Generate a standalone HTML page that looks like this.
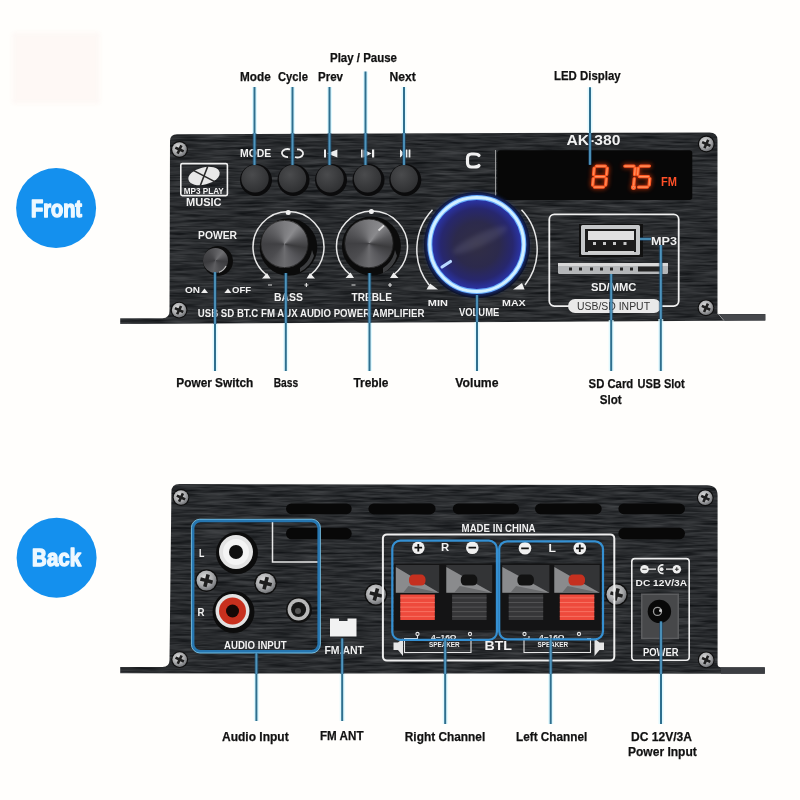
<!DOCTYPE html>
<html><head><meta charset="utf-8"><style>
html,body{margin:0;padding:0;background:#fffefc;width:800px;height:800px;overflow:hidden}
svg{display:block;will-change:transform}
text{font-family:"Liberation Sans",sans-serif}
.lbl{font-size:13px;font-weight:bold;fill:#111;stroke:#111;stroke-width:0.25px}
.pw{fill:#f2f2f2;font-weight:bold}
</style></head><body>
<svg width="800" height="800" viewBox="0 0 800 800">
<defs>
  <pattern id="brush" width="800" height="12" patternUnits="userSpaceOnUse">
    <rect width="800" height="12" fill="#27292c"/>
    <rect y="1" width="800" height="1" fill="#34373a"/>
    <rect y="4" width="800" height="1" fill="#1d1f21"/>
    <rect y="6" width="800" height="1" fill="#393c40"/>
    <rect y="9" width="800" height="1" fill="#1f2123"/>
    <rect y="10" width="800" height="1" fill="#303336"/>
  </pattern>
  <radialGradient id="btn" cx="0.4" cy="0.35" r="0.7">
    <stop offset="0" stop-color="#4a4b4d"/><stop offset="1" stop-color="#2e2f31"/>
  </radialGradient>
  <radialGradient id="knob" cx="0.45" cy="0.4" r="0.6">
    <stop offset="0" stop-color="#6a6b6d"/><stop offset="0.6" stop-color="#3a3b3d"/><stop offset="1" stop-color="#1a1a1b"/>
  </radialGradient>
  <radialGradient id="vol" cx="0.5" cy="0.5" r="0.5">
    <stop offset="0" stop-color="#322f44"/><stop offset="0.5" stop-color="#2c2a4c"/><stop offset="0.8" stop-color="#27276e"/><stop offset="1" stop-color="#2a34a8"/>
  </radialGradient>
  <filter id="brushF" x="0" y="0" width="1" height="1" color-interpolation-filters="sRGB">
    <feTurbulence type="fractalNoise" baseFrequency="0.03 0.4" numOctaves="3" seed="7" result="n"/>
    <feColorMatrix in="n" type="matrix" values="0.27 0 0 0 0.026  0.27 0 0 0 0.035  0.27 0 0 0 0.046  0 0 0 0 1" result="c"/>
    <feComposite in="c" in2="SourceGraphic" operator="in"/>
  </filter>
  <filter id="glow" x="-30%" y="-30%" width="160%" height="160%"><feGaussianBlur stdDeviation="2"/></filter>
  <filter id="soft" x="-5%" y="-5%" width="110%" height="110%"><feGaussianBlur stdDeviation="0.5"/></filter>
  <radialGradient id="scrG" cx="0.4" cy="0.35" r="0.75">
    <stop offset="0" stop-color="#dcdcdc"/><stop offset="0.55" stop-color="#a8a9ab"/><stop offset="1" stop-color="#5e6064"/>
  </radialGradient>
  <g id="screw">
    <circle r="8.4" fill="#0e0e0e"/>
    <circle r="7.3" fill="url(#scrG)"/>
    <path d="M-4.6,-1.3 L-1.3,-1.3 L-1.3,-4.6 L1.3,-4.6 L1.3,-1.3 L4.6,-1.3 L4.6,1.3 L1.3,1.3 L1.3,4.6 L-1.3,4.6 L-1.3,1.3 L-4.6,1.3Z" fill="#1e1e1e" transform="rotate(25)"/>
  </g>
  <g id="screwL">
    <circle r="11.3" fill="#0e0e0e"/>
    <circle r="10" fill="url(#scrG)"/>
    <path d="M-6.3,-1.8 L-1.8,-1.8 L-1.8,-6.3 L1.8,-6.3 L1.8,-1.8 L6.3,-1.8 L6.3,1.8 L1.8,1.8 L1.8,6.3 L-1.8,6.3 L-1.8,1.8 L-6.3,1.8Z" fill="#1e1e1e" transform="rotate(15)"/>
  </g>
</defs>

<!-- faint pink rect -->
<rect x="12" y="32" width="88" height="72" fill="#fcf2ee" opacity="0.45" filter="url(#glow)"/>

<!-- ============ FRONT PANEL ============ -->
<path d="M170,141 Q170,134.2 177,134.2 L709.5,132.4 Q717.5,132.4 717.5,140 L717.5,314.1 L765.3,314.1 L765.3,320.5 L120.2,324.1 L120.2,318.2 L162.5,318.2 Q169.5,318.2 169.5,311 Z" fill="#000" filter="url(#brushF)"/>
<path d="M720,314.3 L765.3,314.3 L765.3,320.4 L724,320.6Z" fill="#46484c"/>
<path d="M718,313.5 L724,320.6" stroke="#9a9c9f" stroke-width="1"/>

<g id="front">
 <use href="#screw" x="179.5" y="149.5"/>
 <use href="#screw" x="706.3" y="144"/>
 <use href="#screw" x="179.1" y="310.1"/>
 <use href="#screw" x="706" y="307.8"/>
 <!-- MP3 logo -->
 <rect x="180.8" y="163.6" width="46.6" height="32" rx="1.5" fill="none" stroke="#f0f0f0" stroke-width="1.6"/>
 <g transform="translate(204,176) rotate(-14)">
  <ellipse rx="16" ry="8.6" fill="#e8e8e8"/>
  <path d="M-9,-8 L9,8 M6,-8.5 L-6,8.5" stroke="#2a2a2a" stroke-width="1.6"/>
 </g>
 <text x="183.8" y="193.8" font-size="8.5" class="pw" textLength="40" lengthAdjust="spacingAndGlyphs">MP3 PLAY</text>
 <text x="186" y="205.5" font-size="10.5" class="pw" textLength="35.6" lengthAdjust="spacingAndGlyphs">MUSIC</text>
 <!-- button labels -->
 <text x="240" y="156.8" font-size="10.5" class="pw" textLength="31.25" lengthAdjust="spacingAndGlyphs">MODE</text>
 <g fill="none" stroke="#eee" stroke-width="1.8">
  <path d="M290,149.5 A5.5,4 0 1 0 288,157"/><path d="M295,157 A5.5,4 0 1 0 297,149.5"/>
 </g>
 <g fill="#eee">
  <rect x="324" y="149.5" width="2" height="8"/><path d="M337.4,149.5 L327,153.5 L337.4,157.5Z"/>
  <rect x="361" y="149.5" width="1.6" height="8"/><path d="M363.5,149.5 L371.5,153.5 L363.5,157.5Z"/><rect x="372" y="149.5" width="2.2" height="8"/>
  <path d="M400,149.5 Q404.5,153.5 400,157.5Z"/><path d="M400,149.5 L404.5,153.5 L400,157.5Z"/><rect x="405.6" y="149.5" width="1.8" height="8"/><rect x="408.6" y="149.5" width="1.8" height="8"/>
 </g>
 <!-- buttons -->
 <g>
  <circle cx="256" cy="180" r="16" fill="#0b0b0c"/><circle cx="255" cy="178.75" r="13.7" fill="url(#btn)"/>
  <circle cx="293.5" cy="180" r="16" fill="#0b0b0c"/><circle cx="292.5" cy="178.75" r="13.7" fill="url(#btn)"/>
  <circle cx="331" cy="180" r="16" fill="#0b0b0c"/><circle cx="330" cy="178.75" r="13.7" fill="url(#btn)"/>
  <circle cx="368.5" cy="180" r="16" fill="#0b0b0c"/><circle cx="367.5" cy="178.75" r="13.7" fill="url(#btn)"/>
  <circle cx="405.3" cy="180" r="16" fill="#0b0b0c"/><circle cx="404.25" cy="178.75" r="13.7" fill="url(#btn)"/>
 </g>
 <!-- C + LED -->
 <path d="M479,155.5 Q478,154 474,154 L471.5,154 Q467.5,154 467.5,158.5 L467.5,162.5 Q467.5,167 471.5,167 L474,167 Q478,167 479,165.5" fill="none" stroke="#f0f0f0" stroke-width="3.2" stroke-linecap="round"/>
 <text x="566.4" y="145.2" font-size="14.5" class="pw" textLength="54" lengthAdjust="spacingAndGlyphs">AK-380</text>
 <rect x="495" y="150" width="1" height="50" fill="#9a9a9a"/>
 <rect x="497.2" y="150.3" width="195.1" height="49.7" rx="3" fill="#070707"/>
 <g fill="none" stroke="#ff3a10" stroke-width="5" stroke-linecap="round" filter="url(#glow)" opacity="0.55">
  <g transform="translate(594,164.6) skewX(-5)">
   <path d="M2.5,1.5H11.5M13.5,3.5V10M13.5,14V20.5M2.5,22.5H11.5M0.5,14V20.5M0.5,3.5V10M2.5,12H11.5"/>
  </g>
  <g transform="translate(622.5,164.6) skewX(-5)">
   <path d="M2.5,1.5H11.5M13,3.5V10M13,14V20.5"/>
  </g>
  <g transform="translate(638,164.6) skewX(-5)">
   <path d="M2.5,1.5H11.5M0.5,3.5V10M2.5,12H11.5M13,14V20.5M2.5,22.5H11.5"/>
  </g>
  <circle cx="633.5" cy="187.3" r="0.9"/>
 </g>
 <g fill="none" stroke="#ff5a22" stroke-width="3.4" stroke-linecap="round">
  <g transform="translate(594,164.6) skewX(-5)">
   <path d="M2.5,1.5H11.5M13.5,3.5V10M13.5,14V20.5M2.5,22.5H11.5M0.5,14V20.5M0.5,3.5V10M2.5,12H11.5"/>
  </g>
  <g transform="translate(622.5,164.6) skewX(-5)">
   <path d="M2.5,1.5H11.5M13,3.5V10M13,14V20.5"/>
  </g>
  <g transform="translate(638,164.6) skewX(-5)">
   <path d="M2.5,1.5H11.5M0.5,3.5V10M2.5,12H11.5M13,14V20.5M2.5,22.5H11.5"/>
  </g>
  <circle cx="633.5" cy="187.3" r="0.9"/>
 </g>
 <g fill="none" stroke="#ffa070" stroke-width="1.2" stroke-linecap="round" opacity="0.8">
  <g transform="translate(594,164.6) skewX(-5)">
   <path d="M2.5,1.5H11.5M13.5,3.5V10M13.5,14V20.5M2.5,22.5H11.5M0.5,14V20.5M0.5,3.5V10M2.5,12H11.5"/>
  </g>
  <g transform="translate(622.5,164.6) skewX(-5)">
   <path d="M2.5,1.5H11.5M13,3.5V10M13,14V20.5"/>
  </g>
  <g transform="translate(638,164.6) skewX(-5)">
   <path d="M2.5,1.5H11.5M0.5,3.5V10M2.5,12H11.5M13,14V20.5M2.5,22.5H11.5"/>
  </g>
  <circle cx="633.5" cy="187.3" r="0.9"/>
 </g>
 <text x="661" y="186" font-size="13" font-weight="bold" fill="#ff5028" textLength="16" lengthAdjust="spacingAndGlyphs">FM</text>
 <!-- USB/SD box -->
 <rect x="549.3" y="214.3" width="129.4" height="91.8" rx="5" fill="none" stroke="#f0f0f0" stroke-width="1.8"/>
 <rect x="579" y="224" width="64" height="33" fill="#111"/>
 <rect x="581" y="225" width="59" height="30" rx="1.5" fill="#c5c7c9"/>
 <rect x="585" y="229" width="51" height="23" fill="#1c1c1c"/>
 <rect x="588" y="231" width="46" height="9" fill="#e0e0e0"/>
 <g fill="#c8c8c8"><rect x="593" y="242" width="3" height="3"/><rect x="603" y="242" width="3" height="3"/><rect x="613" y="242" width="3" height="3"/><rect x="623.5" y="242" width="3" height="3"/></g>
 <rect x="588" y="251" width="46" height="2.5" fill="#d0d0d0"/>
 <rect x="558" y="263" width="110" height="11" rx="1.5" fill="#b4b6b8"/>
 <rect x="558" y="263" width="110" height="3" fill="#d8d8d8"/>
 <g fill="#222"><rect x="569" y="267.5" width="3" height="3"/><rect x="579" y="267.5" width="3" height="3"/><rect x="590" y="267.5" width="3" height="3"/><rect x="600" y="267.5" width="3" height="3"/><rect x="610" y="267.5" width="3" height="3"/><rect x="620" y="267.5" width="3" height="3"/><rect x="630" y="267.5" width="3" height="3"/><rect x="638" y="266.5" width="22" height="5"/></g>
 <text x="591" y="291" font-size="10" class="pw" textLength="45.4" lengthAdjust="spacingAndGlyphs">SD/MMC</text>
 <text x="651" y="245" font-size="11" class="pw" textLength="26" lengthAdjust="spacingAndGlyphs">MP3</text>
 <rect x="568" y="299" width="93" height="14" rx="7" fill="#e9e9e9"/>
 <text x="577" y="310" font-size="10" fill="#333" textLength="73" lengthAdjust="spacingAndGlyphs">USB/SD INPUT</text>
 <!-- power switch -->
 <text x="198" y="239" font-size="10.5" class="pw" textLength="39" lengthAdjust="spacingAndGlyphs">POWER</text>
 <circle cx="218" cy="261" r="15" fill="#0c0c0c"/>
 <foreignObject x="202.90" y="248.10" width="24.80" height="24.80"><div style="width:24.80px;height:24.80px;border-radius:50%;background:conic-gradient(from 0deg,#5a5a5d 0deg,#6e6e71 40deg,#3c3c3f 95deg,#4c4c4f 150deg,#5e5e61 190deg,#3a3a3d 260deg,#48484b 320deg,#5a5a5d 360deg)"></div></foreignObject>
 <path d="M226,266 A12.4,12.4 0 0 1 219,272.3" fill="none" stroke="#bbb" stroke-width="1.2"/>
 <text x="185" y="293" font-size="9.5" class="pw" textLength="15" lengthAdjust="spacingAndGlyphs">ON</text>
 <path d="M201,293 L208,293 L204.5,288.5Z" fill="#eee"/>
 <path d="M224.4,293 L231.4,293 L227.9,288.5Z" fill="#eee"/>
 <text x="232" y="293" font-size="9.5" class="pw" textLength="19" lengthAdjust="spacingAndGlyphs">OFF</text>
 <!-- bass -->
 <path d="M266.6,275 A35.5,35.5 0 1 1 310.4,275" fill="none" stroke="#e8e8e8" stroke-width="1.5"/>
 <circle cx="288.2" cy="212.4" r="2.5" fill="#f0f0f0"/>
 <path d="M262,278.5 L270.5,278.5 L267,273Z M306.5,278.5 L315,278.5 L310,273Z" fill="#eee"/>
 <circle cx="288.5" cy="247" r="28.8" fill="#0b0b0b"/>
 <path d="M300,268 A26,26 0 0 0 312,250 L314,256 A28,28 0 0 1 300,272Z" fill="#4a4b4d" opacity="0.8"/>
 <foreignObject x="260.90" y="220.40" width="47.20" height="47.20"><div style="width:47.20px;height:47.20px;border-radius:50%;background:conic-gradient(from 0deg,#7c7c7f 0deg,#8a8a8d 35deg,#5a5a5d 70deg,#3b3b3d 100deg,#56565a 140deg,#6c6c6f 180deg,#4c4c4f 225deg,#404043 270deg,#606063 320deg,#7c7c7f 360deg)"></div></foreignObject>
 <circle cx="284.5" cy="244" r="23.6" fill="none" stroke="#222" stroke-width="0.8"/>
 <path d="M268,285H272M304.4,285H308.4M306.4,283V287" stroke="#ddd" stroke-width="1.2"/>
 <text x="274" y="301" font-size="10" class="pw" textLength="29" lengthAdjust="spacingAndGlyphs">BASS</text>
 <!-- treble -->
 <path d="M350.1,274.5 A35.5,35.5 0 1 1 393.9,274.5" fill="none" stroke="#e8e8e8" stroke-width="1.5"/>
 <circle cx="371.4" cy="211.5" r="2.5" fill="#f0f0f0"/>
 <path d="M345.5,278 L354,278 L350.5,272.5Z M390,278 L398.5,278 L393.5,272.5Z" fill="#eee"/>
 <circle cx="371.4" cy="246" r="29.5" fill="#0b0b0b"/>
 <path d="M383,268 A26,26 0 0 0 395,250 L397,256 A28,28 0 0 1 383,273Z" fill="#4a4b4d" opacity="0.8"/>
 <foreignObject x="344.60" y="219.10" width="48.60" height="48.60"><div style="width:48.60px;height:48.60px;border-radius:50%;background:conic-gradient(from 0deg,#7c7c7f 0deg,#8a8a8d 35deg,#5a5a5d 70deg,#3b3b3d 100deg,#56565a 140deg,#6c6c6f 180deg,#4c4c4f 225deg,#404043 270deg,#606063 320deg,#7c7c7f 360deg)"></div></foreignObject>
 <circle cx="368.9" cy="243.4" r="24.3" fill="none" stroke="#222" stroke-width="0.8"/>
 <path d="M378.5,230.5 L384,225.5" stroke="#ddd" stroke-width="1.8"/>
 <path d="M351.5,285H355.5M388,285H392M390,283V287" stroke="#ddd" stroke-width="1.2"/>
 <text x="351.6" y="300.6" font-size="10" class="pw" textLength="40.4" lengthAdjust="spacingAndGlyphs">TREBLE</text>
 <!-- volume -->
 <path d="M432.5,209.8 A58,58 0 0 0 429,285 M521.5,209.8 A58,58 0 0 1 525,285" fill="none" stroke="#e8e8e8" stroke-width="1.5"/>
 <path d="M426.5,289.4 L438,289.4 L430,283.5Z M513,289.4 L524.6,289.4 L522,283Z" fill="#eee"/>
 <circle cx="477" cy="245" r="53" fill="#0a0a12"/>
 <circle cx="476.8" cy="244.5" r="48" fill="none" stroke="#2a58e8" stroke-width="6" filter="url(#glow)" opacity="0.6"/>
 <circle cx="476.8" cy="244.5" r="45" fill="url(#vol)"/>
 <ellipse cx="480" cy="240" rx="30" ry="6" transform="rotate(-25 480 240)" fill="#8a8aa8" opacity="0.18" filter="url(#glow)"/>
 <circle cx="476.8" cy="244.5" r="47" fill="none" stroke="#6ab0ff" stroke-width="5" filter="url(#soft)"/>
 <circle cx="476.8" cy="244.5" r="47" fill="none" stroke="#d2f0ff" stroke-width="3"/>
 <path d="M442,267 L450.5,261.5" stroke="#b8d8ff" stroke-width="3.2" stroke-linecap="round"/>
 <text x="427.8" y="305.5" font-size="9.5" class="pw" textLength="20.1" lengthAdjust="spacingAndGlyphs">MIN</text>
 <text x="502" y="305.5" font-size="9.5" class="pw" textLength="23.7" lengthAdjust="spacingAndGlyphs">MAX</text>
 <text x="459" y="316" font-size="10.5" class="pw" textLength="40.3" lengthAdjust="spacingAndGlyphs">VOLUME</text>
 <text x="197.8" y="317" font-size="10.5" class="pw" textLength="226.6" lengthAdjust="spacingAndGlyphs">USB SD BT.C FM AUX AUDIO POWER AMPLIFIER</text>
</g>

<!-- ============ BACK PANEL ============ -->
<path d="M171.4,492 Q171.4,484 179.4,484 L707,485.2 Q717.6,485.2 717.6,495.5 L717.6,664 Q717.6,667.3 721,667.3 L764.8,667.3 L764.8,673.8 L120.2,673.3 L120.2,667 L162.5,667 Q169.5,667 169.5,660 Z" fill="#000" filter="url(#brushF)"/>
<path d="M721,667.5 L764.8,667.5 L764.8,673.8 L721,673.8Z" fill="#3c3e42"/>

<g id="back">
 <!-- vents -->
 <g fill="#080808">
  <rect x="286" y="503.4" width="65.7" height="10.8" rx="5.4"/>
  <rect x="368.4" y="503.4" width="67.2" height="10.8" rx="5.4"/>
  <rect x="452.8" y="503.4" width="66.2" height="10.8" rx="5.4"/>
  <rect x="535" y="503.4" width="66.7" height="10.8" rx="5.4"/>
  <rect x="618.4" y="503.4" width="66.6" height="10.8" rx="5.4"/>
  <rect x="286" y="527.8" width="65.7" height="11.5" rx="5.7"/>
  <rect x="618.4" y="527.8" width="66.6" height="11.5" rx="5.7"/>
 </g>
 <use href="#screw" x="181" y="497.5"/>
 <use href="#screw" x="705.3" y="497.8"/>
 <use href="#screw" x="179.7" y="659.6"/>
 <use href="#screw" x="706.2" y="659.9"/>
 <use href="#screwL" x="375.9" y="594.5"/>
 <use href="#screwL" x="616.5" y="594.5"/>
 <use href="#screwL" x="206.5" y="580.6"/>
 <use href="#screwL" x="265.6" y="583.2"/>
 <!-- audio input -->
 <path d="M272.5,521.5V562H320" fill="none" stroke="#e8e8e8" stroke-width="1.5"/>
 <rect x="192.8" y="520.6" width="126.2" height="131" rx="7.5" fill="none" stroke="#2676b0" stroke-width="3.2"/>
 <rect x="191.4" y="519.2" width="129" height="133.8" rx="8.5" fill="none" stroke="#8fd6f2" stroke-width="0.9" opacity="0.8"/>
 <text x="199" y="556.6" font-size="11" class="pw" textLength="5.4" lengthAdjust="spacingAndGlyphs">L</text>
 <text x="197.5" y="615.5" font-size="11.5" class="pw" textLength="7" lengthAdjust="spacingAndGlyphs">R</text>
 <circle cx="237" cy="553" r="21" fill="#0c0c0c"/>
 <circle cx="236" cy="552" r="17" fill="#e4e4e4"/>
 <circle cx="236" cy="552" r="13" fill="#f4f4f4"/>
 <circle cx="236" cy="552" r="7" fill="#101010"/>
 <circle cx="233.5" cy="612" r="21" fill="#0c0c0c"/>
 <circle cx="232.5" cy="611" r="17" fill="#e2e2e2"/>
 <circle cx="232.5" cy="611" r="13.5" fill="#c8301e"/>
 <circle cx="232.5" cy="611" r="6.5" fill="#160806"/>
 <circle cx="299" cy="610" r="13" fill="#111"/>
 <circle cx="298.6" cy="609.5" r="11" fill="#b8b8b8"/>
 <circle cx="298.6" cy="609.5" r="7.5" fill="#151515"/>
 <circle cx="298" cy="611" r="3" fill="#555"/>
 <text x="224" y="649.4" font-size="11" class="pw" textLength="62.6" lengthAdjust="spacingAndGlyphs">AUDIO INPUT</text>
 <path d="M330,618.5H339V621H347.5V618.5H356.5V636.5H330Z" fill="#f2f2f2"/>
 <text x="324.4" y="653.6" font-size="11" class="pw" textLength="39.6" lengthAdjust="spacingAndGlyphs">FM.ANT</text>
 <!-- speaker area -->
 <rect x="382.9" y="534.4" width="231.4" height="126.2" rx="4" fill="none" stroke="#eee" stroke-width="2"/>
 <text x="461.6" y="532" font-size="10.5" class="pw" textLength="74" lengthAdjust="spacingAndGlyphs">MADE IN CHINA</text>
 <g id="term">
  <rect x="394" y="563.5" width="207.5" height="67" fill="#141415"/>
  <rect x="395.8" y="565" width="43.4" height="27.7" fill="#333436"/>
  <path d="M395.8,567 L439.2,592.7 L395.8,592.7Z" fill="#8a8b8d"/>
  <path d="M408.5,586 L439.2,592.7 L403.1,592.7Z" fill="#6a6b6d"/>
  <rect x="409.0" y="574.6" width="16.5" height="11" rx="4.5" fill="#c5301f"/>
  <rect x="400.3" y="594.5" width="34.5" height="25.5" fill="#ee4a3c"/>
  <rect x="400.3" y="597.5" width="34.5" height="0.8" fill="#f97b6b"/>
  <rect x="400.3" y="602.1" width="34.5" height="0.8" fill="#f97b6b"/>
  <rect x="400.3" y="606.7" width="34.5" height="0.8" fill="#f97b6b"/>
  <rect x="400.3" y="611.3" width="34.5" height="0.8" fill="#f97b6b"/>
  <rect x="400.3" y="615.9" width="34.5" height="0.8" fill="#f97b6b"/>
  <rect x="446.3" y="565" width="45.9" height="27.7" fill="#333436"/>
  <path d="M446.3,567 L492.2,592.7 L446.3,592.7Z" fill="#8a8b8d"/>
  <path d="M459.8,586 L492.2,592.7 L454.1,592.7Z" fill="#6a6b6d"/>
  <rect x="460.8" y="574.6" width="16.5" height="11" rx="4.5" fill="#121212"/>
  <rect x="452.1" y="594.5" width="34.5" height="25.5" fill="#363638"/>
  <rect x="452.1" y="597.5" width="34.5" height="0.8" fill="#5a5a5c"/>
  <rect x="452.1" y="602.1" width="34.5" height="0.8" fill="#5a5a5c"/>
  <rect x="452.1" y="606.7" width="34.5" height="0.8" fill="#5a5a5c"/>
  <rect x="452.1" y="611.3" width="34.5" height="0.8" fill="#5a5a5c"/>
  <rect x="452.1" y="615.9" width="34.5" height="0.8" fill="#5a5a5c"/>
  <rect x="502.3" y="565" width="47.1" height="27.7" fill="#333436"/>
  <path d="M502.3,567 L549.4000000000001,592.7 L502.3,592.7Z" fill="#8a8b8d"/>
  <path d="M516.1,586 L549.4000000000001,592.7 L510.3,592.7Z" fill="#6a6b6d"/>
  <rect x="517.4" y="574.6" width="16.5" height="11" rx="4.5" fill="#121212"/>
  <rect x="508.7" y="594.5" width="34.5" height="25.5" fill="#363638"/>
  <rect x="508.7" y="597.5" width="34.5" height="0.8" fill="#5a5a5c"/>
  <rect x="508.7" y="602.1" width="34.5" height="0.8" fill="#5a5a5c"/>
  <rect x="508.7" y="606.7" width="34.5" height="0.8" fill="#5a5a5c"/>
  <rect x="508.7" y="611.3" width="34.5" height="0.8" fill="#5a5a5c"/>
  <rect x="508.7" y="615.9" width="34.5" height="0.8" fill="#5a5a5c"/>
  <rect x="554.3" y="565" width="45.4" height="27.7" fill="#333436"/>
  <path d="M554.3,567 L599.7,592.7 L554.3,592.7Z" fill="#8a8b8d"/>
  <path d="M567.6,586 L599.7,592.7 L562.0,592.7Z" fill="#6a6b6d"/>
  <rect x="568.5" y="574.6" width="16.5" height="11" rx="4.5" fill="#c5301f"/>
  <rect x="559.8" y="594.5" width="34.5" height="25.5" fill="#ee4a3c"/>
  <rect x="559.8" y="597.5" width="34.5" height="0.8" fill="#f97b6b"/>
  <rect x="559.8" y="602.1" width="34.5" height="0.8" fill="#f97b6b"/>
  <rect x="559.8" y="606.7" width="34.5" height="0.8" fill="#f97b6b"/>
  <rect x="559.8" y="611.3" width="34.5" height="0.8" fill="#f97b6b"/>
  <rect x="559.8" y="615.9" width="34.5" height="0.8" fill="#f97b6b"/>
  <g fill="#f0f0f0"><circle cx="418.3" cy="547.7" r="6.3"/><circle cx="472.3" cy="547.7" r="6.3"/><circle cx="525" cy="548.3" r="6.3"/><circle cx="579.8" cy="548.3" r="6.3"/></g>
  <path d="M414.5,547.7H422.1M418.3,543.9V551.5M468.5,547.7H476.1M521.2,548.3H528.8M576,548.3H583.6M579.8,544.5V552.1" stroke="#111" stroke-width="1.8"/>
  <text x="441" y="551.4" font-size="10" class="pw" textLength="8.2" lengthAdjust="spacingAndGlyphs">R</text>
  <text x="548.6" y="552.2" font-size="10" class="pw" textLength="7.4" lengthAdjust="spacingAndGlyphs">L</text>
  <!-- speaker markings -->
  <g fill="none" stroke="#e6e6e6" stroke-width="1.1">
   <path d="M417.5,636V638.5H404.5V652.5H471V638.5H470"/>
   <path d="M529,636V638.5H524V652.5H590.5V638.5H587"/>
   <circle cx="417.5" cy="634" r="1.6"/><circle cx="470" cy="634" r="1.6"/>
   <circle cx="524.5" cy="634" r="1.6"/><circle cx="579" cy="634" r="1.6"/>
  </g>
  <g fill="#e6e6e6">
   <path d="M393.5,642.5H398L403,638.5V656L398,650H393.5Z"/>
   <path d="M604,642.5H599.5L594.5,638.5V656L599.5,650H604Z"/>
  </g>
  <text x="431" y="640.3" font-size="7.5" class="pw" textLength="25.5" lengthAdjust="spacingAndGlyphs">4~16Ω</text>
  <text x="429" y="647.3" font-size="6.5" class="pw" textLength="30.7" lengthAdjust="spacingAndGlyphs">SPEAKER</text>
  <text x="539" y="640.3" font-size="7.5" class="pw" textLength="25.5" lengthAdjust="spacingAndGlyphs">4~16Ω</text>
  <text x="537.5" y="647.3" font-size="6.5" class="pw" textLength="30.7" lengthAdjust="spacingAndGlyphs">SPEAKER</text>
  <text x="484.5" y="649.5" font-size="12" class="pw" textLength="27.5" lengthAdjust="spacingAndGlyphs">BTL</text>
  <rect x="392.3" y="540.7" width="104.6" height="99.2" rx="8" fill="none" stroke="#3590d2" stroke-width="2.2"/>
  <rect x="499.2" y="541.3" width="103.8" height="98" rx="8" fill="none" stroke="#3590d2" stroke-width="2.2"/>
 </g>
 <!-- power -->
 <rect x="631.8" y="558.6" width="57.4" height="101.6" rx="3" fill="none" stroke="#eee" stroke-width="1.6"/>
 <text x="635.6" y="586.4" font-size="9" class="pw" textLength="51.4" lengthAdjust="spacingAndGlyphs">DC 12V/3A</text>
 <g fill="#eee"><circle cx="644.5" cy="569.2" r="4.3"/><circle cx="676.8" cy="569.2" r="4.3"/><circle cx="661.5" cy="569.2" r="2"/></g>
 <path d="M648,569.2H656M666,569.2H673" stroke="#eee" stroke-width="1.3"/>
 <path d="M663.5,565 A4.3,4.3 0 1 0 663.5,573.4" fill="none" stroke="#eee" stroke-width="1.6"/>
 <path d="M642.3,569.2H646.7M676.8,567.3V571.1M674.9,569.2H678.7" stroke="#333" stroke-width="1.1"/>
 <text x="642.9" y="656" font-size="10" class="pw" textLength="35.7" lengthAdjust="spacingAndGlyphs">POWER</text>
 <rect x="641" y="593.5" width="38" height="45.7" fill="#5c5d5f"/>
 <rect x="642.5" y="595" width="35" height="42.7" fill="#47484a"/>
 <circle cx="659.4" cy="611.4" r="11.7" fill="#080808"/>
 <circle cx="657.5" cy="611.4" r="4" fill="none" stroke="#9a9a9a" stroke-width="1.3"/>
 <circle cx="660.5" cy="610.5" r="1.5" fill="#ccc"/>
</g>

<!-- Front / Back circles -->
<circle cx="56.1" cy="208.1" r="40" fill="#1490ee"/>
<text x="56.5" y="217.0" text-anchor="middle" font-size="23.2" font-weight="bold" fill="#eef8ff" stroke="#eef8ff" stroke-width="1.45" stroke-linejoin="round" textLength="51" lengthAdjust="spacingAndGlyphs">Front</text>
<circle cx="56.6" cy="557.8" r="40" fill="#1490ee"/>
<text x="56.6" y="566.4" text-anchor="middle" font-size="23.2" font-weight="bold" fill="#eef8ff" stroke="#eef8ff" stroke-width="1.45" stroke-linejoin="round" textLength="49" lengthAdjust="spacingAndGlyphs">Back</text>

<!-- ============ LABELS (top) ============ -->
<g class="lbl">
<text x="330" y="62" textLength="67" lengthAdjust="spacingAndGlyphs">Play / Pause</text>
<text x="240" y="80.5" textLength="30.75" lengthAdjust="spacingAndGlyphs">Mode</text>
<text x="278" y="80.5" textLength="30" lengthAdjust="spacingAndGlyphs">Cycle</text>
<text x="318" y="80.5" textLength="25" lengthAdjust="spacingAndGlyphs">Prev</text>
<text x="389.5" y="80.5" textLength="26.25" lengthAdjust="spacingAndGlyphs">Next</text>
<text x="554" y="80" textLength="66.6" lengthAdjust="spacingAndGlyphs">LED Display</text>
<text x="176.3" y="386.6" textLength="77" lengthAdjust="spacingAndGlyphs">Power Switch</text>
<text x="273.7" y="386.6" textLength="24.4" lengthAdjust="spacingAndGlyphs">Bass</text>
<text x="353.4" y="386.6" textLength="35.1" lengthAdjust="spacingAndGlyphs">Treble</text>
<text x="455.3" y="386.5" textLength="43.2" lengthAdjust="spacingAndGlyphs">Volume</text>
<text x="588.6" y="387.5" textLength="44.6" lengthAdjust="spacingAndGlyphs">SD Card</text>
<text x="637.6" y="387.5" textLength="47.2" lengthAdjust="spacingAndGlyphs">USB Slot</text>
<text x="599.8" y="403.7" textLength="21.9" lengthAdjust="spacingAndGlyphs">Slot</text>
<!-- bottom labels -->
<text x="222" y="741" textLength="66.7" lengthAdjust="spacingAndGlyphs">Audio Input</text>
<text x="320" y="740" textLength="43.5" lengthAdjust="spacingAndGlyphs">FM ANT</text>
<text x="404.8" y="740.5" textLength="80.4" lengthAdjust="spacingAndGlyphs">Right Channel</text>
<text x="516" y="740.5" textLength="71.2" lengthAdjust="spacingAndGlyphs">Left Channel</text>
<text x="631" y="740.8" textLength="61" lengthAdjust="spacingAndGlyphs">DC 12V/3A</text>
<text x="628" y="756" textLength="68.8" lengthAdjust="spacingAndGlyphs">Power Input</text>
</g>

<!-- ============ BLUE LINES ============ -->
<g id="lines" stroke-linecap="butt" fill="none">
 <g stroke="#d8f7ff" stroke-width="5" opacity="0.8">
  <path d="M254.5,87V133M292.5,87V133M329.5,87V133M365.5,71.5V133M404,87V133M590,87.3V133"/>
  <path d="M215,371V324M285.8,371V323M369.5,371V323M477,371V322M611.2,371V320M660.8,371V319"/>
  <path d="M256.4,721V674M342.2,721V674M445.2,724V674M550.7,724V674M661,724V674"/>
 </g>
 <g stroke="#1d4a70" stroke-width="4" opacity="0.55">
  <path d="M254.5,133V165M292.5,133V165M329.5,133V165M365.5,133V165M404,133V165M590,133V164.8"/>
  <path d="M215,324V272M285.8,323V273M369.5,323V273M477,322V295M611.2,320V274M660.8,319V245M651,239H640"/>
  <path d="M256.4,674V653M342.2,674V638.6M445.2,674V638M550.7,674V638M661,674V621.5"/>
 </g>
 <g stroke="#2f6f8e" stroke-width="2" id="core">
  <path d="M254.5,87V165M292.5,87V165M329.5,87V165M365.5,71.5V165M404,87V165M590,87.3V164.8"/>
  <path d="M215,371V272M285.8,371V273M369.5,371V273M477,371V295M611.2,371V274M660.8,371V245M651,239H640"/>
  <path d="M256.4,721V653M342.2,721V638.6M445.2,724V638M550.7,724V638M661,724V621.5"/>
 </g>
 <g stroke="#4f94bd" stroke-width="1.7">
  <path d="M254.5,133V165M292.5,133V165M329.5,133V165M365.5,133V165M404,133V165M590,133V164.8"/>
  <path d="M215,324V272M285.8,323V273M369.5,323V273M477,322V295M611.2,320V274M660.8,319V245M651,239H640"/>
  <path d="M256.4,674V653M342.2,674V638.6M445.2,674V638M550.7,674V638M661,674V621.5"/>
 </g>
</g>

</svg>
</body></html>
